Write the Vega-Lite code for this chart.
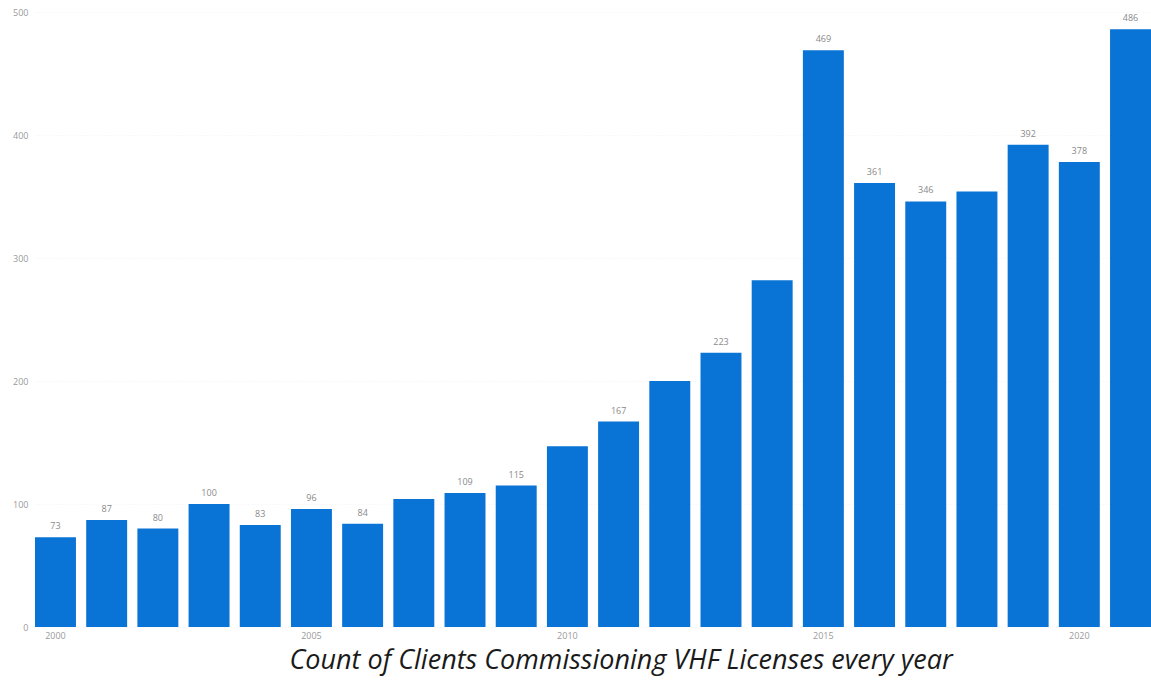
{
  "$schema": "https://vega.github.io/schema/vega-lite/v6.json",
  "autosize": {"type": "none"},
  "width": 1116,
  "height": 615,
  "padding": {"left": 35, "top": 12, "right": 0, "bottom": 53},
  "background": "white",
  "config": {
    "view": {"stroke": null},
    "font": "Open Sans"
  },
  "title": {
    "text": "Count of Clients Commissioning VHF Licenses every year",
    "orient": "bottom",
    "anchor": "middle",
    "font": "Open Sans",
    "fontStyle": "italic",
    "fontWeight": "normal",
    "fontSize": 27,
    "color": "#1a1a1a",
    "offset": 8,
    "dx": 28
  },
  "data": {
    "values": [
      {"year": 2000, "count": 73, "labelled": true},
      {"year": 2001, "count": 87, "labelled": true},
      {"year": 2002, "count": 80, "labelled": true},
      {"year": 2003, "count": 100, "labelled": true},
      {"year": 2004, "count": 83, "labelled": true},
      {"year": 2005, "count": 96, "labelled": true},
      {"year": 2006, "count": 84, "labelled": true},
      {"year": 2007, "count": 104, "labelled": false},
      {"year": 2008, "count": 109, "labelled": true},
      {"year": 2009, "count": 115, "labelled": true},
      {"year": 2010, "count": 147, "labelled": false},
      {"year": 2011, "count": 167, "labelled": true},
      {"year": 2012, "count": 200, "labelled": false},
      {"year": 2013, "count": 223, "labelled": true},
      {"year": 2014, "count": 282, "labelled": false},
      {"year": 2015, "count": 469, "labelled": true},
      {"year": 2016, "count": 361, "labelled": true},
      {"year": 2017, "count": 346, "labelled": true},
      {"year": 2018, "count": 354, "labelled": false},
      {"year": 2019, "count": 392, "labelled": true},
      {"year": 2020, "count": 378, "labelled": true},
      {"year": 2021, "count": 486, "labelled": true}
    ]
  },
  "encoding": {
    "x": {
      "field": "year",
      "type": "ordinal",
      "scale": {"paddingInner": 0.2, "paddingOuter": 0},
      "axis": {
        "title": null,
        "values": [2000, 2005, 2010, 2015, 2020],
        "labelAngle": 0,
        "labelColor": "#9a9a9a",
        "labelFontSize": 9,
        "labelPadding": 4,
        "ticks": false,
        "domain": false
      }
    },
    "y": {
      "field": "count",
      "type": "quantitative",
      "scale": {"domain": [0, 500], "nice": false},
      "axis": {
        "title": null,
        "values": [0, 100, 200, 300, 400, 500],
        "labelColor": "#9a9a9a",
        "labelFontSize": 9,
        "labelPadding": 7,
        "ticks": false,
        "domain": false,
        "grid": true,
        "gridColor": "#f3f3f3",
        "gridDash": [1, 2]
      }
    }
  },
  "layer": [
    {
      "mark": {"type": "bar", "color": "#0A74D6"}
    },
    {
      "transform": [{"filter": {"field": "labelled", "equal": true}}],
      "mark": {
        "type": "text",
        "baseline": "bottom",
        "dy": -6,
        "fontSize": 9,
        "color": "#8a8a8a"
      },
      "encoding": {
        "text": {"field": "count", "type": "quantitative"}
      }
    }
  ]
}
